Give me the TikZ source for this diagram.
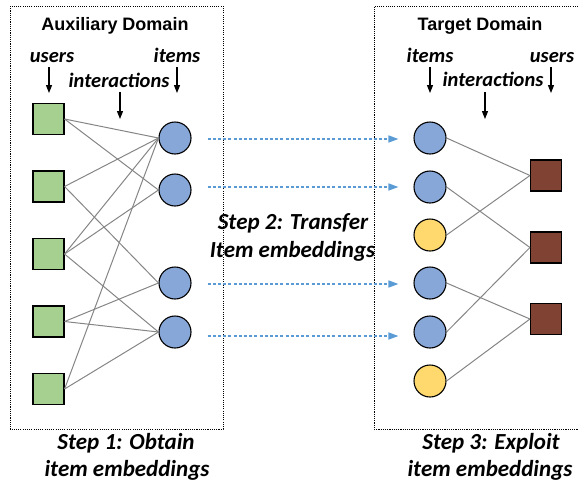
\documentclass[tikz,border=0pt]{standalone}
\usepackage{fontspec}
\usetikzlibrary{arrows.meta,calc}
\newfontfamily\labelfont{Carlito}
\newfontfamily\headfont{Liberation Sans}
\definecolor{usergreen}{HTML}{A6D08F}
\definecolor{itemblue}{HTML}{87A7D9}
\definecolor{itemyellow}{HTML}{FFD86E}
\definecolor{userbrown}{HTML}{7F4233}
\definecolor{edgegray}{HTML}{858585}
\definecolor{transferblue}{HTML}{5B9BD5}
\begin{document}
\begin{tikzpicture}[x=1pt,y=-1pt,
  frame/.style={draw=black, line width=0.9pt, dash pattern=on 1.1pt off 1.1pt},
  usersq/.style={draw=black, line width=1.1pt, minimum size=31pt, inner sep=0pt},
  itemc/.style={circle, draw=black, line width=1.1pt, minimum size=32pt, inner sep=0pt},
  link/.style={draw=edgegray, line width=1pt},
  pointer/.style={draw=black, line width=1.1pt, -{Triangle[length=8pt,width=6pt]}},
  transfer/.style={draw=transferblue, line width=1.5pt, dash pattern=on 3pt off 2.2pt,
    -{Triangle[length=10pt,width=7pt]}},
  head/.style={font=\headfont\bfseries\fontsize{18}{21}\selectfont, anchor=base, inner sep=0pt},
  tag/.style={font=\labelfont\bfseries\itshape\fontsize{20.5}{24}\selectfont, anchor=base, inner sep=0pt},
  steptext/.style={font=\labelfont\bfseries\itshape\fontsize{23}{27}\selectfont, anchor=base, inner sep=0pt}
]
\useasboundingbox (0,0) rectangle (578,485);

% domain frames
\draw[frame] (10,6) rectangle (223,429);
\draw[frame] (578,6) -- (374,6) -- (374,429) -- (578,429);

% headings and labels, auxiliary domain
\node[head] (auxhead) at (115,30) {Auxiliary Domain};
\node[tag] (auxusers) at (52,62) {users};
\node[tag] (auxitems) at (177,62) {items};
\node[tag] (auxinter) at (119,87) {interactions};

% headings and labels, target domain
\node[head] (tgthead) at (480,30) {Target Domain};
\node[tag] (tgtitems) at (430,62) {items};
\node[tag] (tgtusers) at (552,62) {users};
\node[tag] (tgtinter) at (493,86) {interactions};

% pointer arrows below the labels
\coordinate (p1a) at (49,67);  \coordinate (p1b) at (49,93);
\coordinate (p2a) at (177,67); \coordinate (p2b) at (177,93);
\coordinate (p3a) at (120,92); \coordinate (p3b) at (120,119);
\coordinate (p4a) at (430,67); \coordinate (p4b) at (430,93);
\coordinate (p5a) at (551,67); \coordinate (p5b) at (551,93);
\coordinate (p6a) at (485,92); \coordinate (p6b) at (485,119);
\draw[pointer] (p1a) -- (p1b);
\draw[pointer] (p2a) -- (p2b);
\draw[pointer] (p3a) -- (p3b);
\draw[pointer] (p4a) -- (p4b);
\draw[pointer] (p5a) -- (p5b);
\draw[pointer] (p6a) -- (p6b);

% auxiliary domain users
\node[usersq, fill=usergreen] (s1) at (48.5,119) {};
\node[usersq, fill=usergreen] (s2) at (48.5,186.5) {};
\node[usersq, fill=usergreen] (s3) at (48.5,254) {};
\node[usersq, fill=usergreen] (s4) at (48.5,321.5) {};
\node[usersq, fill=usergreen] (s5) at (48.5,389) {};

% auxiliary domain items
\node[itemc, fill=itemblue] (a1) at (175,138) {};
\node[itemc, fill=itemblue] (a2) at (175,190) {};
\node[itemc, fill=itemblue] (a3) at (175,283) {};
\node[itemc, fill=itemblue] (a4) at (175,332) {};

% auxiliary interactions
\draw[link] (s1.east) -- (a1.west);
\draw[link] (s1.east) -- (a2.west);
\draw[link] (s2.east) -- (a1.west);
\draw[link] (s2.east) -- (a3.west);
\draw[link] (s3.east) -- (a1.west);
\draw[link] (s3.east) -- (a2.west);
\draw[link] (s3.east) -- (a4.west);
\draw[link] (s4.east) -- (a3.west);
\draw[link] (s4.east) -- (a4.west);
\draw[link] (s5.east) -- (a1.west);
\draw[link] (s5.east) -- (a4.west);

% target domain items
\node[itemc, fill=itemblue]   (b1) at (430,138) {};
\node[itemc, fill=itemblue]   (b2) at (430,187) {};
\node[itemc, fill=itemyellow] (b3) at (430,235) {};
\node[itemc, fill=itemblue]   (b4) at (430,283) {};
\node[itemc, fill=itemblue]   (b5) at (430,332) {};
\node[itemc, fill=itemyellow] (b6) at (430,381) {};

% target domain users
\node[usersq, fill=userbrown] (t1) at (546,175.5) {};
\node[usersq, fill=userbrown] (t2) at (546,247.5) {};
\node[usersq, fill=userbrown] (t3) at (546,319) {};

% target interactions
\draw[link] (b1.east) -- (t1.west);
\draw[link] (b2.east) -- (t2.west);
\draw[link] (b3.east) -- (t1.west);
\draw[link] (b4.east) -- (t3.west);
\draw[link] (b5.east) -- (t2.west);
\draw[link] (b6.east) -- (t3.west);

% transfer of item embeddings
\draw[transfer] ($(a1.east)+(16,1)$) -- ($(b1.west)+(-15,1)$);
\draw[transfer] ($(a2.east |- b2.west)+(16,0)$) -- ($(b2.west)+(-15,0)$);
\draw[transfer] ($(a3.east)+(16,1)$) -- ($(b4.west)+(-15,1)$);
\draw[transfer] ($(a4.east)+(16,4)$) -- ($(b5.west)+(-15,4)$);

% step captions
\node[steptext] (st1a) at (126,449) {Step 1: Obtain};
\node[steptext] (st1b) at (127,476) {item embeddings};
\node[steptext] (st2a) at (293,229) {Step 2: Transfer};
\node[steptext] (st2b) at (292.5,257) {Item embeddings};
\node[steptext] (st3a) at (491,449) {Step 3: Exploit};
\node[steptext] (st3b) at (490,476) {item embeddings};
\end{tikzpicture}
\end{document}
